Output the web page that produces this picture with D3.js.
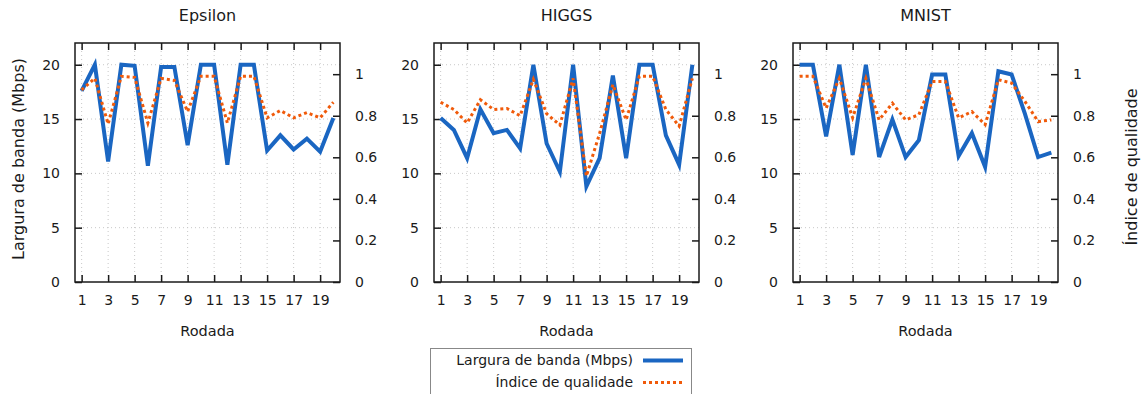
<!DOCTYPE html>
<html>
<head>
<meta charset="utf-8">
<script src="https://cdn.jsdelivr.net/npm/d3@7"></script>
<style>
  html,body{margin:0;padding:0;background:#fff;}
  svg{display:block;font-family:"DejaVu Sans",sans-serif;}
</style>
</head>
<body>
<svg id="chart" width="1142" height="394"></svg>
<script>
// ── data ──
const rounds=d3.range(1,21);
const datasets=['Epsilon','HIGGS','MNIST'];
const bwEpsilon=[17.6,20,11.1,20,19.9,10.7,19.8,19.8,12.6,20,20,10.8,20,20,12.1,13.5,12.2,13.2,12.0,15.1];
const qEpsilon=[0.925,0.98,0.76,0.99,0.985,0.765,0.98,0.97,0.82,0.99,0.99,0.765,0.99,0.99,0.79,0.825,0.79,0.815,0.79,0.865];
const bwHiggs=[15.1,14.0,11.4,15.9,13.7,14.0,12.3,20,12.75,10.15,20,8.8,11.4,19.0,11.4,20,20,13.5,10.8,20];
const qHiggs=[0.865,0.83,0.765,0.877,0.83,0.835,0.80,0.975,0.81,0.755,0.98,0.51,0.715,0.95,0.78,0.99,0.99,0.83,0.75,0.98];
const bwMnist=[20,20,13.4,20,11.7,20,11.5,14.95,11.5,13.06,19.1,19.1,11.6,13.7,10.6,19.4,19.1,15.5,11.5,11.9];
const qMnist=[0.99,0.99,0.837,0.98,0.79,0.98,0.78,0.86,0.78,0.805,0.965,0.965,0.79,0.82,0.757,0.973,0.957,0.869,0.772,0.78];
const xTicks=[1,3,5,7,9,11,13,15,17,19];
const yLeftTicks=[0,5,10,15,20];
const yRightTicks=[0,0.2,0.4,0.6,0.8,1];
const seriesLabels=['Largura de banda (Mbps)','Índice de qualidade'];

const bwSeries=[bwEpsilon,bwHiggs,bwMnist];
const qSeries=[qEpsilon,qHiggs,qMnist];

const BLUE='#1a66c2',ORANGE='#f05a0a',INK='#1a1a1a';
const panelX=[75,434,793],PW=265,TOP=43,BOT=282;

const svg=d3.select('#chart');

datasets.forEach((name,i)=>{
  const x0=panelX[i];
  const x=d3.scaleLinear().domain([0.5,20.5]).range([x0,x0+PW]);
  const yL=d3.scaleLinear().domain([0,22]).range([BOT,TOP]);
  const yR=d3.scaleLinear().domain([0,1.15]).range([BOT,TOP]);
  const g=svg.append('g');

  // grid — dotted, at x ticks and left y ticks
  g.selectAll('.gx').data(xTicks).join('line')
    .attr('x1',d=>x(d)).attr('x2',d=>x(d)).attr('y1',TOP).attr('y2',BOT)
    .attr('stroke','#c8c8c8').attr('stroke-width',1).attr('stroke-dasharray','1,3');
  g.selectAll('.gy').data(yLeftTicks.slice(1)).join('line')
    .attr('x1',x0).attr('x2',x0+PW).attr('y1',d=>yL(d)).attr('y2',d=>yL(d))
    .attr('stroke','#c8c8c8').attr('stroke-width',1).attr('stroke-dasharray','1,3');

  // axes (inward ticks, gnuplot style)
  const axB=g.append('g').attr('transform',`translate(0,${BOT})`)
    .call(d3.axisBottom(x).tickValues(xTicks).tickSize(-7).tickPadding(13).tickSizeOuter(0));
  const axT=g.append('g').attr('transform',`translate(0,${TOP})`)
    .call(d3.axisTop(x).tickValues(xTicks).tickSize(-7).tickFormat('').tickSizeOuter(0));
  const axL=g.append('g').attr('transform',`translate(${x0},0)`)
    .call(d3.axisLeft(yL).tickValues(yLeftTicks).tickSize(-7).tickPadding(15).tickSizeOuter(0));
  const axR=g.append('g').attr('transform',`translate(${x0+PW},0)`)
    .call(d3.axisRight(yR).tickValues(yRightTicks).tickSize(-7).tickPadding(15).tickSizeOuter(0)
      .tickFormat(d=>d3.format('')(+d.toFixed(1))));
  [axB,axT,axL,axR].forEach(a=>{
    a.select('.domain').remove();
    a.selectAll('line').attr('stroke',INK).attr('stroke-width',1.5);
    a.selectAll('text').attr('fill',INK).attr('font-size',14).attr('font-family','DejaVu Sans');
  });

  // box
  g.append('rect').attr('x',x0).attr('y',TOP).attr('width',PW).attr('height',BOT-TOP)
    .attr('fill','none').attr('stroke',INK).attr('stroke-width',1.5);

  // series: bandwidth first, quality drawn on top
  const bw=bwSeries[i].map((v,k)=>[rounds[k],v]);
  const q=qSeries[i].map((v,k)=>[rounds[k],v]);
  g.append('path').datum(bw)
    .attr('d',d3.line().x(d=>x(d[0])).y(d=>yL(d[1])))
    .attr('fill','none').attr('stroke',BLUE).attr('stroke-width',4).attr('stroke-linejoin','miter');
  g.append('path').datum(q)
    .attr('d',d3.line().x(d=>x(d[0])).y(d=>yR(d[1])))
    .attr('fill','none').attr('stroke',ORANGE).attr('stroke-width',3).attr('stroke-dasharray','3,3');

  // title and x label
  g.append('text').attr('x',x0+PW/2).attr('y',21).attr('text-anchor','middle')
    .attr('font-size',16).attr('fill',INK).text(name);
  g.append('text').attr('x',x0+PW/2).attr('y',336).attr('text-anchor','middle')
    .attr('font-size',14.5).attr('fill',INK).text('Rodada');
});

// y labels
svg.append('text').attr('transform','translate(24,159) rotate(-90)').attr('text-anchor','middle')
  .attr('font-size',16).attr('fill',INK).text(seriesLabels[0]);
svg.append('text').attr('transform','translate(1137,167) rotate(-90)').attr('text-anchor','middle')
  .attr('font-size',16).attr('fill',INK).text(seriesLabels[1]);

// legend
const lg=svg.append('g');
lg.append('rect').attr('x',430.5).attr('y',348.5).attr('width',261).attr('height',50)
  .attr('fill','#fff').attr('stroke','#888').attr('stroke-width',1);
const legendRows=[{label:seriesLabels[0],color:BLUE,w:4,dash:null},{label:seriesLabels[1],color:ORANGE,w:3,dash:'3,3'}];
legendRows.forEach((r,k)=>{
  const yy=360.5+k*22;
  lg.append('text').attr('x',633).attr('y',yy).attr('dy','0.35em').attr('text-anchor','end')
    .attr('font-size',14).attr('fill',INK).text(r.label);
  lg.append('line').attr('x1',643).attr('x2',683).attr('y1',yy).attr('y2',yy)
    .attr('stroke',r.color).attr('stroke-width',r.w).attr('stroke-dasharray',r.dash);
});
</script>
</body>
</html>
